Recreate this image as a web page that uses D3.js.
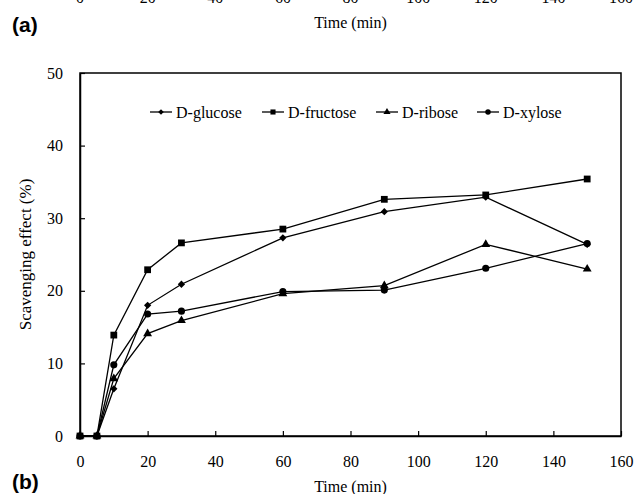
<!DOCTYPE html>
<html>
<head>
<meta charset="utf-8">
<script src="https://cdn.jsdelivr.net/npm/d3@7"></script>
<style>
  body { margin: 0; background: #fff; }
  svg { display: block; }
</style>
</head>
<body>
<div id="chart"></div>
<script>
const times = [0, 5, 10, 20, 30, 60, 90, 120, 150];
const glucose = [0, 0, 6.5, 18.0, 20.9, 27.3, 30.9, 32.9, 26.4];
const fructose = [0, 0, 13.9, 22.9, 26.6, 28.5, 32.6, 33.2, 35.4];
const ribose = [0, 0, 7.9, 14.1, 15.9, 19.6, 20.7, 26.4, 23.0];
const xylose = [0, 0, 9.8, 16.8, 17.2, 19.9, 20.1, 23.1, 26.5];
const seriesNames = ["D-glucose", "D-fructose", "D-ribose", "D-xylose"];
const xTicks = [0, 20, 40, 60, 80, 100, 120, 140, 160];
const yTicks = [0, 10, 20, 30, 40, 50];

const width = 634, height = 494;
const margin = { top: 73, right: 13, bottom: 58, left: 80 };
const serif = "'Liberation Serif', 'Times New Roman', serif";

const svg = d3.select("#chart").append("svg")
  .attr("width", width).attr("height", height);

const x = d3.scaleLinear().domain([0, 160]).range([margin.left, width - margin.right]);
const y = d3.scaleLinear().domain([0, 50]).range([height - margin.bottom, margin.top]);

// remnant of panel (a) at the top, its tick labels cut by the page edge
svg.append("g").selectAll("text").data(xTicks).join("text")
  .attr("x", (d) => x(d)).attr("y", 3)
  .attr("text-anchor", "middle")
  .attr("font-family", serif).attr("font-size", 16)
  .text((d) => d);
svg.append("text").attr("x", x(80)).attr("y", 28)
  .attr("text-anchor", "middle").attr("font-family", serif).attr("font-size", 16)
  .text("Time (min)");
svg.append("text").attr("x", 12).attr("y", 32)
  .attr("font-family", "'Liberation Sans', Arial, sans-serif")
  .attr("font-weight", "bold").attr("font-size", 21)
  .text("(a)");

// frame
svg.append("rect")
  .attr("x", x(0)).attr("y", y(50))
  .attr("width", x(160) - x(0)).attr("height", y(0) - y(50))
  .attr("fill", "none").attr("stroke", "#000").attr("stroke-width", 1.5);

// axes with inward ticks
const xAxisG = svg.append("g").attr("transform", `translate(0,${y(0)})`)
  .call(d3.axisBottom(x).tickValues(xTicks).tickSizeInner(-5).tickSizeOuter(0).tickPadding(20));
const yAxisG = svg.append("g").attr("transform", `translate(${x(0)},0)`)
  .call(d3.axisLeft(y).tickValues(yTicks).tickSizeInner(-5).tickSizeOuter(0).tickPadding(17));
[xAxisG, yAxisG].forEach((g) => {
  g.select(".domain").attr("stroke", "#000").attr("stroke-width", 1.5);
  g.selectAll(".tick line").attr("stroke", "#000").attr("stroke-width", 1.2);
  g.selectAll(".tick text").attr("font-family", serif).attr("font-size", 16).attr("fill", "#000");
});

svg.append("text").attr("x", (x(0) + x(160)) / 2).attr("y", 492)
  .attr("text-anchor", "middle").attr("font-family", serif).attr("font-size", 16)
  .text("Time (min)");
svg.append("text")
  .attr("transform", `translate(31,${(y(0) + y(50)) / 2}) rotate(-90)`)
  .attr("text-anchor", "middle").attr("font-family", serif).attr("font-size", 17)
  .text("Scavenging effect (%)");
svg.append("text").attr("x", 12).attr("y", 489)
  .attr("font-family", "'Liberation Sans', Arial, sans-serif")
  .attr("font-weight", "bold").attr("font-size", 21)
  .text("(b)");

const symbols = [
  d3.symbol().type(d3.symbolDiamond2).size(34),
  d3.symbol().type(d3.symbolSquare).size(46),
  d3.symbol().type(d3.symbolTriangle).size(34),
  d3.symbol().type(d3.symbolCircle).size(40),
];
const legendSymbols = [
  d3.symbol().type(d3.symbolDiamond2).size(20),
  d3.symbol().type(d3.symbolSquare).size(26),
  d3.symbol().type(d3.symbolTriangle).size(22),
  d3.symbol().type(d3.symbolCircle).size(24),
];

const series = [glucose, fructose, ribose, xylose].map((vals, i) => ({
  name: seriesNames[i],
  points: vals.map((v, j) => ({ t: times[j], v })),
  symbol: symbols[i],
  legendSymbol: legendSymbols[i],
}));

const line = d3.line().x((d) => x(d.t)).y((d) => y(d.v));

const seriesG = svg.append("g").selectAll("g").data(series).join("g");
seriesG.append("path")
  .attr("d", (d) => line(d.points))
  .attr("fill", "none").attr("stroke", "#000").attr("stroke-width", 1.3);
seriesG.each(function (s) {
  d3.select(this).selectAll(".pt").data(s.points).join("path")
    .attr("class", "pt")
    .attr("transform", (d) => `translate(${x(d.t)},${y(d.v)})`)
    .attr("d", s.symbol())
    .attr("fill", "#000");
});

// legend
const legendX = [150, 262, 376, 477];
const legendY = 112;
const legendG = svg.append("g").selectAll("g").data(series).join("g")
  .attr("transform", (d, i) => `translate(${legendX[i]},${legendY})`);
legendG.append("line").attr("x1", 0).attr("x2", 22).attr("y1", 0).attr("y2", 0)
  .attr("stroke", "#000").attr("stroke-width", 1.3);
legendG.append("path").attr("transform", "translate(11,0)")
  .attr("d", (d) => d.legendSymbol()).attr("fill", "#000");
legendG.append("text").attr("x", 26).attr("y", 5.5)
  .attr("font-family", serif).attr("font-size", 16)
  .text((d) => d.name);
</script>
</body>
</html>
